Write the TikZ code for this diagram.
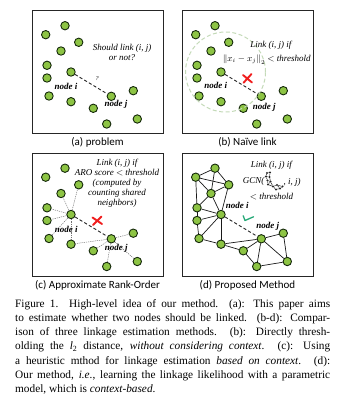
\documentclass[tikz,border=0pt]{standalone}
\usepackage{fontspec}
\setmainfont{Liberation Serif}
\newfontfamily\subcapfont{Carlito}
\definecolor{dotgreen}{RGB}{141,196,68}
\definecolor{dotrim}{RGB}{20,40,10}
\definecolor{halogreen}{RGB}{196,218,184}
\definecolor{checkgreen}{RGB}{36,168,118}
\definecolor{xred}{RGB}{240,30,30}
\tikzset{
  panel/.style={draw=black!85,line width=1pt,minimum width=131pt,minimum height=123pt,inner sep=0pt},
  dot/.style={circle,draw=dotrim,fill=dotgreen,line width=0.9pt,minimum size=8.4pt,inner sep=0pt},
  ijlink/.style={draw=black!85,line width=0.9pt,dash pattern=on 3.2pt off 2.2pt},
  nbr/.style={draw=black!55,line width=0.5pt,dash pattern=on 1.2pt off 1pt},
  gedge/.style={draw=black!90,line width=0.7pt},
  desc/.style={font=\fontsize{9}{10}\selectfont\itshape,align=center,inner sep=0pt},
  lab/.style={font=\fontsize{9}{10}\selectfont\bfseries\itshape,inner sep=0pt},
  subcap/.style={font=\fontsize{11}{12}\selectfont\subcapfont,inner sep=0pt},
  capline/.style={font=\fontsize{11.3}{14}\selectfont,anchor=base west,inner sep=0pt},
  redx/.style={draw=xred,line width=1.9pt,line cap=round},
  icon/.style={circle,fill=black!85,minimum size=2.2pt,inner sep=0pt},
}
\begin{document}
\begin{tikzpicture}[x=1pt,y=-1pt]
\useasboundingbox (0,0) rectangle (342,406);
% four panels with the same point set
\foreach \p/\dx/\dy in {a/0/0,b/150/0,c/0/142.5,d/150/142.5}{
  \begin{scope}[shift={(\dx,\dy)}]
    \node[panel] (\p-box) at (97.5,72.5) {};
    \foreach \i/\x/\y in {1/65/25.7,2/45.7/34.7,3/78.7/42.3,4/61/51,5/47/65.3,
      6/71/72,7/47/78,8/49/96,9/71/101.7,10/93.3/108.3,11/111.3/96.3,
      12/133.3/90.7,13/137.3/119,14/106.7/124}{
      \node[dot] (\p\i) at (\x,\y) {};
    }
  \end{scope}
}
% ---------- (a) problem
\draw[ijlink] (a6) -- (a11);
\node[desc,font=\fontsize{6}{7}\selectfont\itshape] (a-q) at (97,79) {?};
\node[desc] (a-text) at (122,52.3) {Should link (i, j)\\or not?};
\node[lab] (a-ni) at (66,86.7) {node i};
\node[lab] (a-nj) at (116,104.3) {node j};
\node[subcap] (a-cap) at (97.5,142) {(a) problem};
% ---------- (b) naive link
\node[circle,draw=halogreen,line width=1pt,dash pattern=on 4pt off 2.5pt,minimum size=80pt,inner sep=0pt] (b-halo) at (225.5,72) {};
\draw[ijlink] (b6) -- (b11);
\draw[redx] (243,75) -- (252,82.5) (243.5,82.8) -- (251.5,74);
\node[desc] (b-t1) at (270.8,45) {Link (i, j) if};
\node[desc] (b-t2) at (266.7,59.3) {$\left\| x_i-x_j\right\|_2$ {\upshape$<$} threshold};
\node[lab] (b-ni) at (215.8,85.5) {node i};
\node[lab] (b-nj) at (264.2,107.7) {node j};
\node[subcap] (b-cap) at (247.5,142) {(b) Naïve link};
% ---------- (c) approximate rank-order
\foreach \k in {3,4,5,7,8,9}{\draw[nbr] (c6) -- (c\k);}
\foreach \k in {9,10,12,13,14}{\draw[nbr] (c11) -- (c\k);}
\draw[ijlink] (c6) -- (c11);
\draw[redx] (92.5,217.5) -- (102,224) (93,225) -- (101.5,216.5);
\node[desc] (c-text) at (117,183.3) {Link (i, j) if\\ARO score {\upshape$<$} threshold\\(computed by\\counting shared\\neighbors)};
\node[lab] (c-ni) at (66.2,229) {node i};
\node[lab] (c-nj) at (116.2,248.7) {node j};
\node[subcap] (c-cap) at (97.5,285) {(c) Approximate Rank-Order};
% ---------- (d) proposed method
\foreach \u/\v in {1/2,1/3,1/4,2/3,2/4,2/5,3/4,3/6,4/5,4/6,5/6,5/7,7/6,7/8,6/8,6/9,
  8/9,9/10,9/11,10/11,10/14,11/14,11/12,11/13,12/13,13/14}{
  \draw[gedge] (d\u) -- (d\v);
}
\draw[ijlink] (d6) -- (d11);
\draw[draw=checkgreen,line width=1.3pt,line cap=round,line join=round] (243.2,215.8) -- (245,220.5) -- (253.5,216.8);
\node[desc] (d-t1) at (271.3,165) {Link (i, j) if};
\node[desc,anchor=east] (d-t2) at (264.5,181) {GCN(};
\node[desc,anchor=west] (d-t3) at (283.5,182) {, i, j)};
\node[desc] (d-t4) at (271.5,196.5) {{\upshape$<$} threshold};
% tiny graph icon inside GCN( )
\node[icon] (g1) at (267,173) {};
\node[icon] (g2) at (270,172.5) {};
\node[icon] (g3) at (266,176.5) {};
\node[icon] (g4) at (269.5,177) {};
\node[icon] (g5) at (267.5,180.5) {};
\node[icon] (g6) at (270.5,181.5) {};
\node[icon] (g7) at (268,184.5) {};
\node[icon] (g8) at (273,186.5) {};
\node[icon] (g9) at (277,185) {};
\node[icon] (g10) at (280,188.5) {};
\node[icon] (g11) at (282.5,186.5) {};
\node[icon] (g12) at (276,189.5) {};
\foreach \u/\v in {g1/g2,g1/g3,g2/g4,g3/g4,g3/g5,g4/g6,g5/g6,g5/g7,g6/g7,g7/g8,g6/g8,g8/g9,g8/g12,g9/g11,g9/g10,g10/g11,g12/g10}{
  \draw[black!85,line width=0.5pt] (\u) -- (\v);
}
\node[lab] (d-ni) at (237.2,205) {node i};
\node[lab] (d-nj) at (267.7,226) {node j};
\node[subcap] (d-cap) at (247.5,285) {(d) Proposed Method};
% ---------- figure caption
\node[capline] (l1) at (15,307.3) {\makebox[315pt][s]{Figure 1.  High-level idea of our method.  (a):  This paper aims}};
\node[capline] (l2) at (15,321.5) {\makebox[315pt][s]{to estimate whether two nodes should be linked.  (b-d):  Compar-}};
\node[capline] (l3) at (15,335.7) {\makebox[315pt][s]{ison of three linkage estimation methods.  (b):  Directly thresh-}};
\node[capline] (l4) at (15,349.9) {\makebox[315pt][s]{olding the \textit{l}\textsubscript{2} distance, \textit{without considering context}.  (c):  Using}};
\node[capline] (l5) at (15,364.1) {\makebox[315pt][s]{a heuristic mthod for linkage estimation \textit{based on context}.  (d):}};
\node[capline] (l6) at (15,378.3) {\makebox[315pt][s]{Our method, \textit{i.e.}, learning the linkage likelihood with a parametric}};
\node[capline] (l7) at (15,392.5) {model, which is \textit{context-based}.};
\end{tikzpicture}
\end{document}
